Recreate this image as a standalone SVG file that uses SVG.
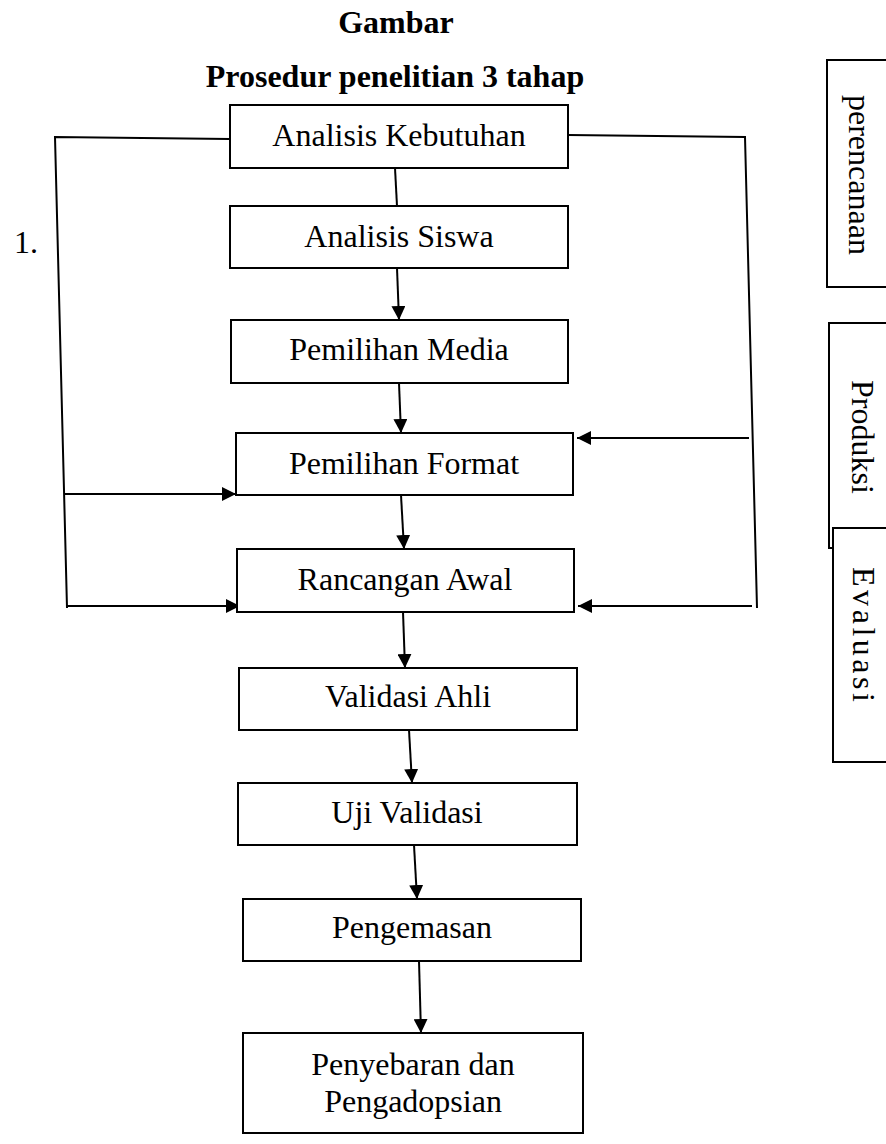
<svg xmlns="http://www.w3.org/2000/svg" width="886" height="1144" viewBox="0 0 886 1144">
<style>
text{font-family:"Liberation Serif","Times New Roman",serif;font-size:32px;fill:#000}
.t{font-weight:bold}
.c{text-anchor:middle}
.b{fill:#fff;stroke:#000;stroke-width:2}
.l{fill:none;stroke:#000;stroke-width:2}
</style>
<defs>
<marker id="ah" markerUnits="userSpaceOnUse" markerWidth="14" markerHeight="14" viewBox="0 0 14 14" refX="14" refY="7" orient="auto">
<path d="M0,0 L14,7 L0,14 Z" fill="#000"/>
</marker>
</defs>
<rect width="886" height="1144" fill="#fff"/>
<g id="title">
<text class="t c" x="396" y="33">Gambar</text>
<text class="t c" x="395" y="87">Prosedur penelitian 3 tahap</text>
</g>
<g id="label1"><text x="14" y="253">1.</text></g>
<g id="connectors">
<polyline class="l" points="230,139 55,137 67,608"/>
<polyline class="l" points="568,135 745,137 757,608"/>
<line class="l" x1="64" y1="494" x2="236" y2="494" marker-end="url(#ah)"/>
<line class="l" x1="67" y1="606" x2="240" y2="606" marker-end="url(#ah)"/>
<line class="l" x1="749" y1="438" x2="577" y2="438" marker-end="url(#ah)"/>
<line class="l" x1="752" y1="606" x2="578" y2="606" marker-end="url(#ah)"/>
<line class="l" x1="395" y1="168" x2="397" y2="206"/>
<line class="l" x1="397" y1="268" x2="399" y2="320" marker-end="url(#ah)"/>
<line class="l" x1="399" y1="383" x2="401" y2="433" marker-end="url(#ah)"/>
<line class="l" x1="401" y1="495" x2="404" y2="549" marker-end="url(#ah)"/>
<line class="l" x1="403" y1="612" x2="405" y2="668" marker-end="url(#ah)"/>
<line class="l" x1="409" y1="730" x2="412" y2="783" marker-end="url(#ah)"/>
<line class="l" x1="414" y1="845" x2="417" y2="899" marker-end="url(#ah)"/>
<line class="l" x1="419" y1="961" x2="421" y2="1033" marker-end="url(#ah)"/>
</g>
<g id="n1"><rect class="b" x="230" y="105" width="338" height="63"/><text class="c" x="399" y="146">Analisis Kebutuhan</text></g>
<g id="n2"><rect class="b" x="230" y="206" width="338" height="62"/><text class="c" x="399" y="247">Analisis Siswa</text></g>
<g id="n3"><rect class="b" x="231" y="320" width="337" height="63"/><text class="c" x="399" y="360">Pemilihan Media</text></g>
<g id="n4"><rect class="b" x="236" y="433" width="337" height="62"/><text class="c" x="404" y="474">Pemilihan Format</text></g>
<g id="n5"><rect class="b" x="237" y="549" width="337" height="63"/><text class="c" x="405" y="590">Rancangan Awal</text></g>
<g id="n6"><rect class="b" x="239" y="668" width="338" height="62"/><text class="c" x="408" y="707">Validasi Ahli</text></g>
<g id="n7"><rect class="b" x="238" y="783" width="339" height="62"/><text class="c" x="407" y="823">Uji Validasi</text></g>
<g id="n8"><rect class="b" x="243" y="899" width="338" height="62"/><text class="c" x="412" y="938">Pengemasan</text></g>
<g id="n9"><rect class="b" x="243" y="1033" width="340" height="100"/><text class="c" x="413" y="1075">Penyebaran dan</text><text class="c" x="413" y="1112">Pengadopsian</text></g>
<g id="perencanaan"><rect class="b" x="827" y="60" width="70" height="227"/><text transform="translate(849,95) rotate(90)">perencanaan</text></g>
<g id="produksi"><rect class="b" x="829" y="323" width="70" height="225"/><text transform="translate(852,380) rotate(90)">Produksi</text></g>
<g id="evaluasi"><rect class="b" x="833" y="528" width="70" height="234"/><text transform="translate(853,567) rotate(90)" textLength="135" lengthAdjust="spacing">Evaluasi</text></g>
</svg>
